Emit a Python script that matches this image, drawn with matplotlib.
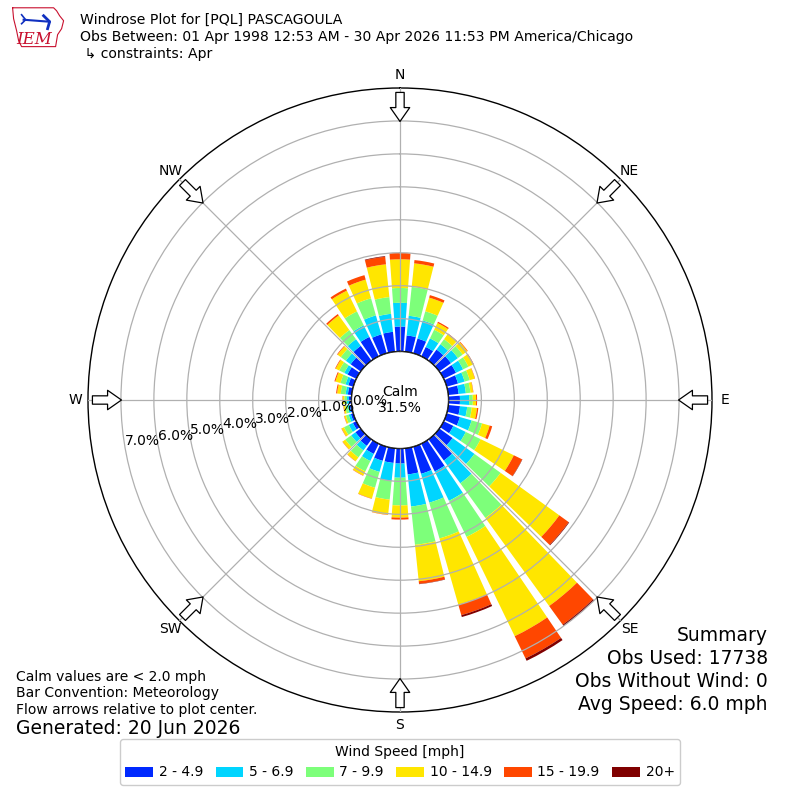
import numpy as np
import matplotlib.pyplot as plt
from matplotlib.patches import Patch

# direction of each bar (degrees, meteorological) and frequency (%) per speed bin
directions = np.arange(0, 360, 10)
speed_bins = ['2 - 4.9', '5 - 6.9', '7 - 9.9', '10 - 14.9', '15 - 19.9', '20+']

pct_2_5 = [0.76, 0.50, 0.47, 0.32, 0.42, 0.44, 0.42, 0.36, 0.32, 0.35, 0.36, 0.42,
           0.33, 0.50, 0.80, 0.94, 0.86, 0.80, 0.46, 0.45, 0.45, 0.35, 0.25, 0.20,
           0.12, 0.08, 0.06, 0.08, 0.12, 0.16, 0.30, 0.38, 0.56, 0.66, 0.60, 0.61]
pct_5_7 = [0.72, 0.60, 0.57, 0.29, 0.20, 0.26, 0.24, 0.21, 0.22, 0.28, 0.22, 0.37,
           0.42, 0.82, 0.85, 0.99, 0.91, 0.98, 0.43, 0.55, 0.35, 0.24, 0.17, 0.16,
           0.14, 0.07, 0.06, 0.06, 0.07, 0.09, 0.11, 0.18, 0.25, 0.39, 0.60, 0.55]
pct_7_10 = [0.45, 0.88, 0.29, 0.29, 0.19, 0.18, 0.18, 0.16, 0.14, 0.11, 0.14, 0.33,
            0.50, 0.98, 1.30, 1.22, 1.13, 1.17, 0.84, 0.57, 0.50, 0.35, 0.26, 0.22,
            0.16, 0.09, 0.08, 0.08, 0.15, 0.16, 0.17, 0.19, 0.34, 0.47, 0.54, 0.51]
pct_10_15 = [0.87, 0.72, 0.43, 0.23, 0.19, 0.17, 0.16, 0.16, 0.08, 0.10, 0.16, 0.24,
             1.12, 2.20, 3.30, 3.35, 2.09, 1.11, 0.37, 0.46, 0.34, 0.14, 0.14, 0.10,
             0.08, 0.05, 0.05, 0.05, 0.11, 0.16, 0.12, 0.12, 0.55, 0.70, 0.59, 1.00]
pct_15_20 = [0.19, 0.10, 0.08, 0.04, 0.02, 0.02, 0.02, 0.01, 0.01, 0.03, 0.04, 0.08,
             0.28, 0.35, 0.70, 0.75, 0.33, 0.08, 0.06, 0.01, 0.01, 0.01, 0.01, 0.01,
             0.01, 0.01, 0.01, 0.01, 0.03, 0.03, 0.02, 0.02, 0.05, 0.07, 0.14, 0.23]
pct_20_up = [0.00, 0.00, 0.00, 0.00, 0.00, 0.00, 0.00, 0.00, 0.00, 0.00, 0.00, 0.00,
             0.01, 0.02, 0.05, 0.08, 0.06, 0.01, 0.00, 0.00, 0.00, 0.00, 0.00, 0.00,
             0.00, 0.00, 0.00, 0.00, 0.00, 0.00, 0.00, 0.00, 0.00, 0.00, 0.00, 0.02]

calm_pct = 31.5
summary = ['Summary', 'Obs Used: 17738', 'Obs Without Wind: 0', 'Avg Speed: 6.0 mph']
compass = ['N', 'NE', 'E', 'SE', 'S', 'SW', 'W', 'NW']
rticks = [0, 1, 2, 3, 4, 5, 6, 7]

colors = plt.cm.jet(np.linspace(0, 1, 7))[1:]

fig = plt.figure(figsize=(8, 8), dpi=100)
ax = fig.add_axes([0.11, 0.11, 0.78, 0.78], projection='polar')
ax.set_theta_zero_location('N')
ax.set_theta_direction(-1)
ax.set_ylim(0, 8)
ax.set_rorigin(-1.47)

theta = np.deg2rad(directions)
width = np.deg2rad(8.2)
bottom = np.zeros(len(directions))
for vals, c in zip([pct_2_5, pct_5_7, pct_7_10, pct_10_15, pct_15_20, pct_20_up], colors):
    vals = np.array(vals)
    ax.bar(theta, vals, width=width, bottom=bottom, color=c, linewidth=0, zorder=2)
    bottom = bottom + vals

# calm circle
tt = np.linspace(0, 2 * np.pi, 361)
ax.plot(tt, np.zeros_like(tt), color='black', lw=1.2, zorder=4)
ax.text(0, -1.47, f'Calm\n{calm_pct}%', ha='center', va='center', fontsize=10, zorder=5)

ax.set_yticks(rticks)
ax.set_yticklabels([f'{v:.1f}%' for v in rticks], fontsize=10)
ax.set_rlabel_position(260)
ax.set_xticks(np.deg2rad(np.arange(0, 360, 45)))
ax.set_xticklabels([])
ax.grid(color='#b0b0b0', lw=0.9, zorder=3)
ax.set_axisbelow(False)
ax.spines['polar'].set_linewidth(1.0)

# inward flow arrows and compass labels
for i, lab in enumerate(compass):
    th = np.deg2rad(i * 45)
    ax.annotate('', xy=(th, 6.9), xytext=(th, 7.95),
                arrowprops=dict(arrowstyle='simple,head_length=0.5,head_width=0.7,tail_width=0.3',
                                mutation_scale=20, fc='white', ec='black', lw=0.9),
                zorder=6, annotation_clip=False)
    ax.text(th, 8.38, lab, ha='center', va='center', fontsize=10)

# header
fig.text(0.1, 0.975, 'Windrose Plot for [PQL] PASCAGOULA', fontsize=10.1, va='center')
fig.text(0.1, 0.954, 'Obs Between: 01 Apr 1998 12:53 AM - 30 Apr 2026 11:53 PM America/Chicago',
         fontsize=10.1, va='center')
fig.text(0.1, 0.933, ' \u21b3 constraints: Apr', fontsize=10.1, va='center')

# small IEM logo
lax = fig.add_axes([0.012, 0.938, 0.075, 0.056])
lax.set_xlim(0, 60)
lax.set_ylim(45, 0)
lax.axis('off')
ia_x = [3, 44, 47, 50, 54, 52, 48, 46, 12, 9, 7, 4, 3]
ia_y = [3, 3, 6, 11, 16, 24, 30, 42, 42, 36, 26, 14, 3]
lax.plot(ia_x, ia_y, color='#c8102e', lw=0.8)
lax.plot([14, 40], [15, 17], color='#1030c0', lw=1.5)
lax.plot([12, 16, 12], [10, 15, 19], color='#1030c0', lw=1.2)
lax.plot([34, 40, 38], [11, 17, 24], color='#1030c0', lw=2)
lax.text(25, 35, 'IEM', color='#c8102e', fontsize=12, style='italic',
         family='DejaVu Serif', ha='center', va='center')

# footer notes
fig.text(0.02, 0.154, 'Calm values are < 2.0 mph', fontsize=10, va='center')
fig.text(0.02, 0.134, 'Bar Convention: Meteorology', fontsize=10, va='center')
fig.text(0.02, 0.113, 'Flow arrows relative to plot center.', fontsize=10, va='center')
fig.text(0.02, 0.089, 'Generated: 20 Jun 2026', fontsize=13.5, va='center')

for k, line in enumerate(summary):
    fig.text(0.96, 0.206 - k * 0.029, line, fontsize=13.5, ha='right', va='center')

handles = [Patch(facecolor=c, label=l) for c, l in zip(colors, speed_bins)]
fig.legend(handles=handles, loc='lower center', bbox_to_anchor=(0.5, 0.01), ncol=6,
           title='Wind Speed [mph]', fontsize=10, title_fontsize=10,
           handlelength=2.0, handleheight=0.7, handletextpad=0.4, columnspacing=0.9,
           framealpha=1)

fig.savefig('out.png', dpi=100)
